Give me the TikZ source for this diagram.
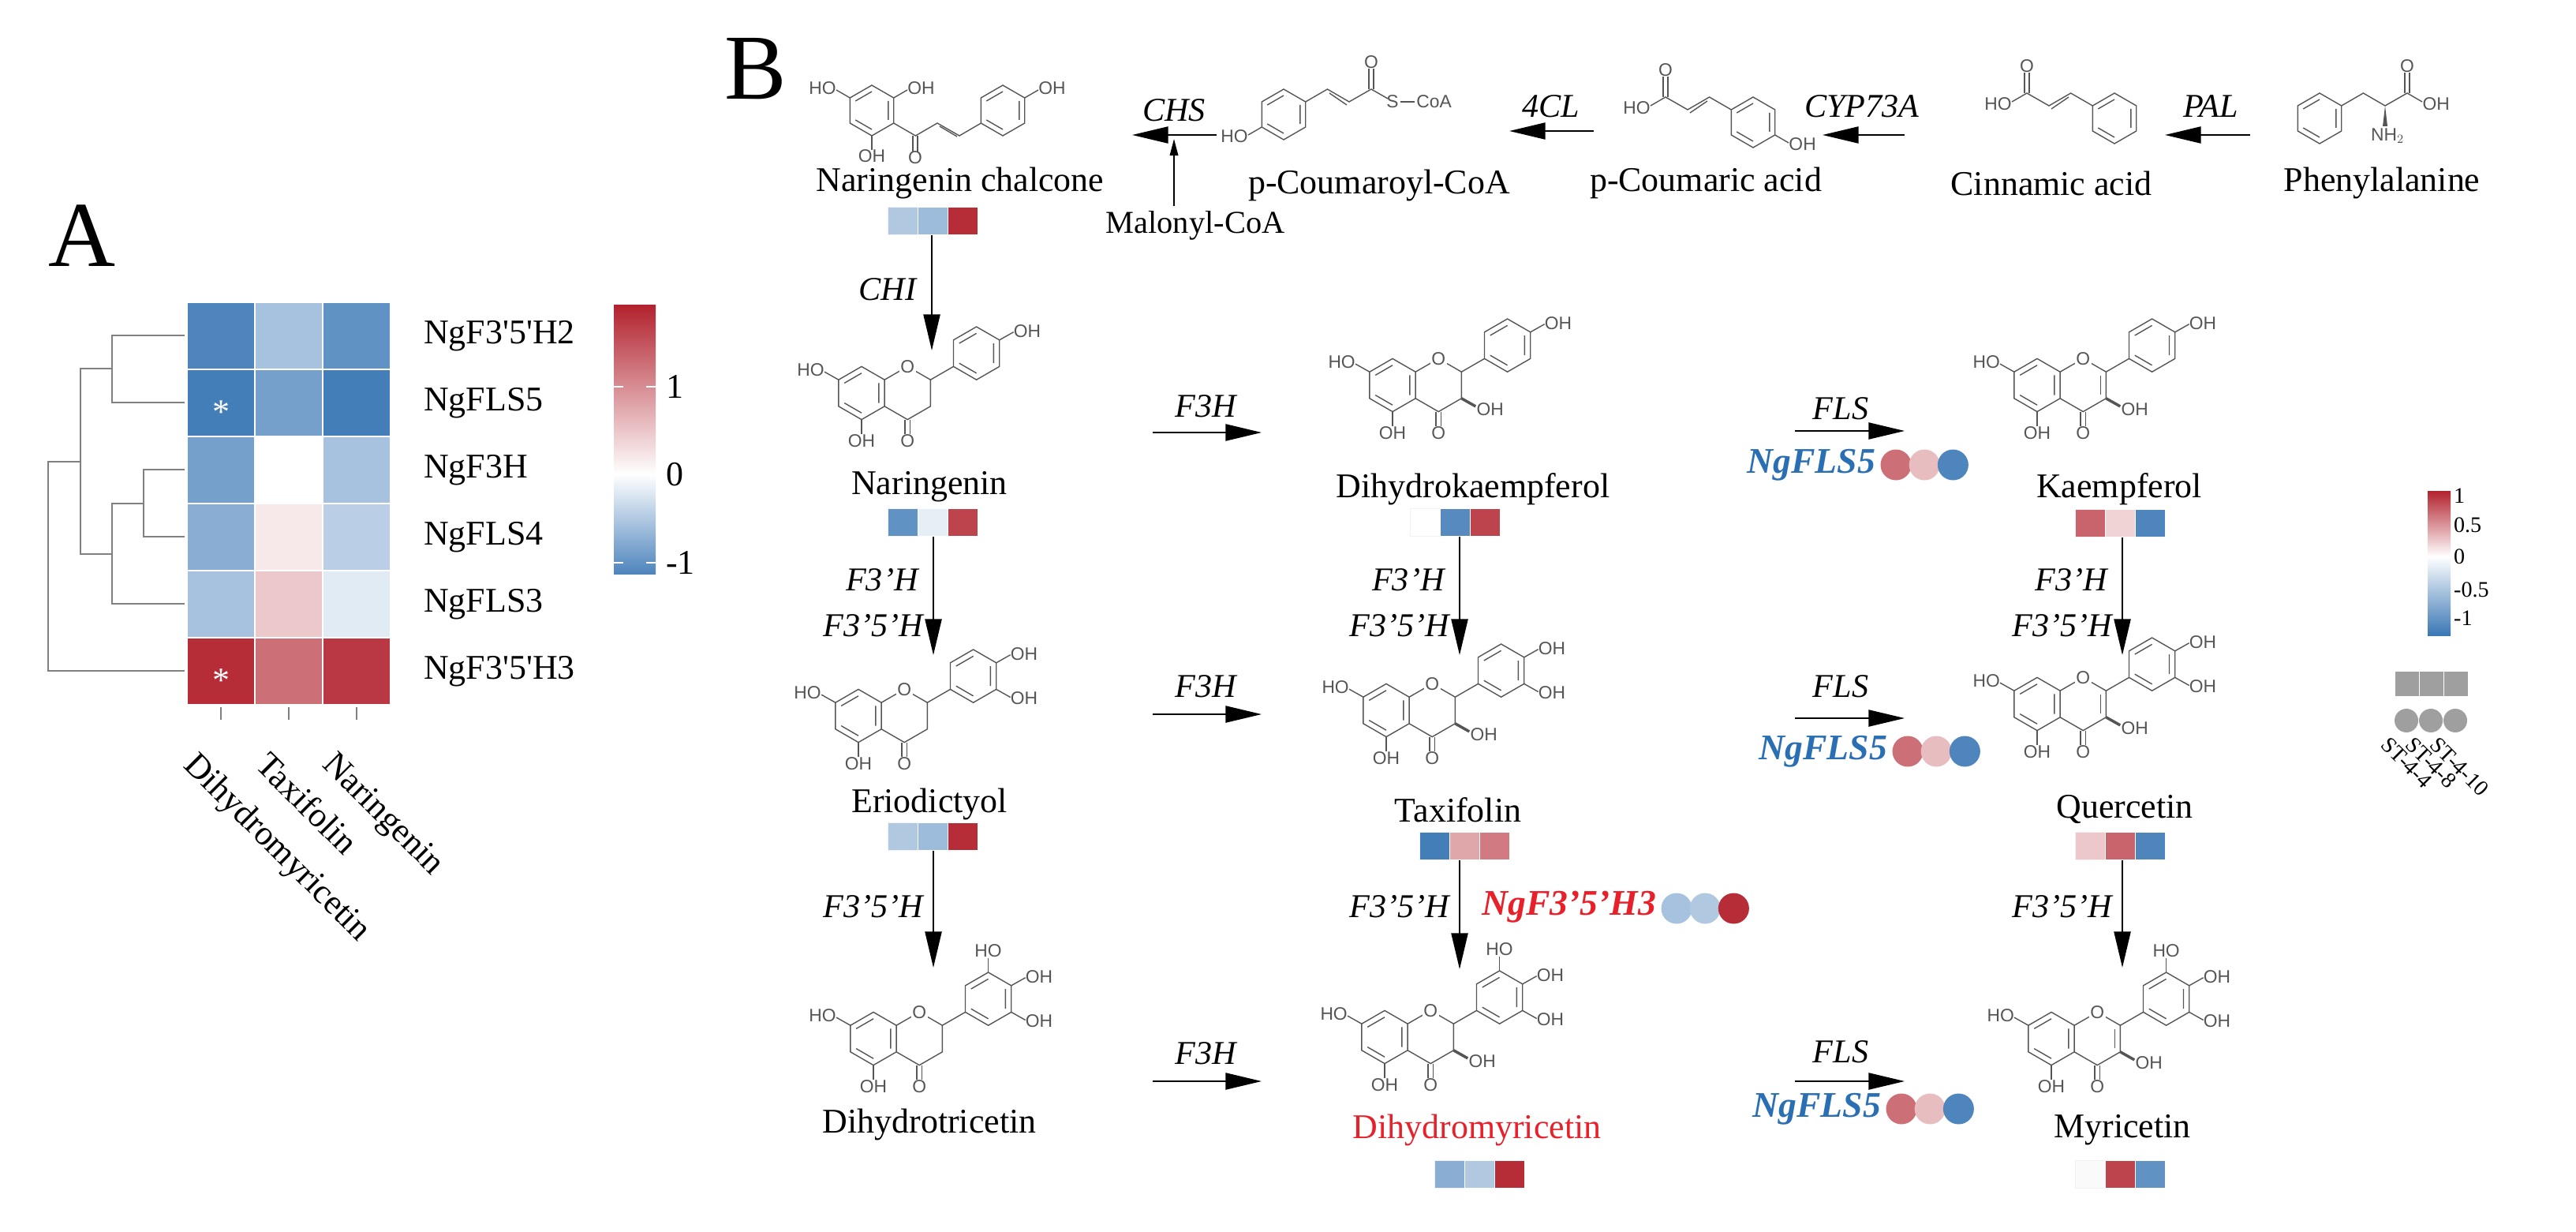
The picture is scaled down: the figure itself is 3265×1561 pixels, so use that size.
\documentclass[tikz,border=0pt]{standalone}
\usepackage{fontspec}
\setmainfont{Liberation Serif}
\setsansfont{Liberation Sans}
\usetikzlibrary{arrows.meta,positioning,calc}
\definecolor{hmB}{HTML}{3A77B5}
\definecolor{hmR}{HTML}{B2222E}
\definecolor{molgray}{HTML}{555555}
\definecolor{nameblue}{HTML}{2A6FB4}
\definecolor{namered}{HTML}{E8202A}
\newcommand\fs[1]{\fontsize{#1}{#1}\selectfont}

\tikzset{
  lab/.style={font=\fs{25}},
  enz/.style={font=\fs{24}\itshape},
  atom/.style={font=\sffamily\fs{13},inner sep=1pt,text=molgray},
  mol/.style={color=molgray,line width=0.8pt},
  rxn/.style={line width=1.2pt,-{Triangle[length=26pt,width=12pt]}},
  dend/.style={gray,line width=1.3pt},
  trio/.style={minimum width=2.28cm,minimum height=0.7cm,inner sep=0pt},
  spot/.style={circle,minimum size=0.78cm,inner sep=0pt},
}

% hexagon with inner bonds: center, radius
\newcommand\hexa[2]{%
  \draw (#1) +(30:#2) -- +(90:#2) -- +(150:#2) -- +(210:#2) -- +(270:#2) -- +(330:#2) -- cycle;
  \pgfmathsetmacro\ri{0.75*#2}
  \draw (#1) +(90:\ri) -- +(150:\ri) (#1) +(210:\ri) -- +(270:\ri) (#1) +(330:\ri) -- +(30:\ri);}

% three expression boxes: name, position, colours
\newcommand\trio[5]{%
  \node[trio] (#1) at (#2) {};
  \fill[#3,draw=white!90!gray] (#1.north west) rectangle ++(38,35);
  \fill[#4,draw=white] ($(#1.north west)+(38,0)$) rectangle ++(38,35);
  \fill[#5,draw=white] ($(#1.north west)+(76,0)$) rectangle ++(38,35);}

% three gene expression spots: name, position, colours
\newcommand\spots[5]{%
  \node[spot,fill=#3] (#1a) at (#2) {};
  \node[spot,fill=#4,right=-2pt of #1a] (#1b) {};
  \node[spot,fill=#5,right=-2pt of #1b] (#1c) {};}

% flavonoid skeleton: position, type (0 flavanone, 1 dihydroflavonol, 2 flavonol), B-ring OH
\newcommand\flav[3]{%
  \begin{scope}[shift={(#1)},yscale=-1,scale=1.12,mol]
    \hexa{0,0}{30}
    \draw (26,15) -- (52,30) -- (78,15) -- (78,-15) -- (52,-30) -- (26,-15);
    \node[atom,fill=white] at (52,30) {O};
    \draw (49,-30) -- (49,-46) (55,-30) -- (55,-46);
    \node[atom] at (52,-54) {O};
    \draw (-26,15) -- (-42,24);
    \node[atom,anchor=east] at (-40,26) {HO};
    \draw (0,-30) -- (0,-46);
    \node[atom] at (0,-54) {OH};
    \ifnum#2>0
      \draw[line width=2pt] (78,-15) -- (94,-24);
      \node[atom,anchor=west] at (93,-27) {OH};
    \fi
    \ifnum#2=2 \draw (72,-11) -- (72,11); \fi
    \draw (78,15) -- (104,30);
    \hexa{130,45}{30}
    \draw (156,60) -- (172,69);
    \node[atom,anchor=west] at (170,70) {OH};
    \ifnum#3>1
      \draw (156,30) -- (172,21);
      \node[atom,anchor=west] at (170,20) {OH};
    \fi
    \ifnum#3>2
      \draw (130,75) -- (130,91);
      \node[atom,anchor=south] at (130,90) {HO};
    \fi
  \end{scope}}

\begin{document}
\begin{tikzpicture}[x=0.02cm,y=-0.02cm]
\useasboundingbox (0,0) rectangle (3265,1561);

%%% panel A
\node[font=\fs{67}] (pA) at (104,299) {A};
\foreach \r/\ca/\cb/\cc/\g in {
    0/hmB!90/hmB!45/hmB!80/NgF3\textquotesingle5\textquotesingle H2,
    1/hmB!95/hmB!70/hmB!95/NgFLS5,
    2/hmB!70/white/hmB!45/NgF3H,
    3/hmB!60/hmR!10/hmB!35/NgFLS4,
    4/hmB!45/hmR!25/hmB!15/NgFLS3,
    5/hmR!95/hmR!65/hmR!90/NgF3\textquotesingle5\textquotesingle H3}{
  \pgfmathsetmacro\y{383+85*\r}
  \pgfmathsetmacro\yc{\y+42.5}
  \fill[\ca,draw=white,line width=1.2pt] (237,\y) rectangle ++(86,85);
  \fill[\cb,draw=white,line width=1.2pt] (323,\y) rectangle ++(86,85);
  \fill[\cc,draw=white,line width=1.2pt] (409,\y) rectangle ++(86,85);
  \node[lab,anchor=west] (g\r) at (531,\yc) {\g};
}
\node[text=white,font=\fs{25}] (s1) at (280,522) {*};
\node[text=white,font=\fs{25}] (s2) at (280,862) {*};
% dendrogram
\draw[dend] (234,425) -- (142,425) -- (142,510) -- (234,510);
\draw[dend] (234,595) -- (182,595) -- (182,680) -- (234,680);
\draw[dend] (182,638) -- (142,638) -- (142,765) -- (234,765);
\draw[dend] (142,467) -- (102,467) -- (102,702) -- (142,702);
\draw[dend] (102,585) -- (61,585) -- (61,850) -- (234,850);
\draw[dend] (280,896) -- (280,912) (366,896) -- (366,912) (452,896) -- (452,912);
\node[lab,rotate=-45,anchor=north west] (c1) at (253,941) {Dihydromyricetin};
\node[lab,rotate=-45,anchor=north west] (c2) at (344,941) {Taxifolin};
\node[lab,rotate=-45,anchor=north west] (c3) at (428,941) {Naringenin};
% colour key
\shade[top color=hmR,bottom color=white] (778,386) rectangle (831,601);
\shade[top color=white,bottom color=hmB!90] (778,601) rectangle (831,727);
\foreach \t/\v in {490/1,601/0,713/-1}{
  \draw[white,line width=1pt] (778,\t) -- (790,\t) (819,\t) -- (831,\t);
  \node[lab,anchor=west] at (838,\t) {\v};
}

%%% panel B
\node[font=\fs{67}] (pB) at (958,87) {B};
% top row molecules
\begin{scope}[shift={(1105,140)},yscale=-1,mol]
  \hexa{0,0}{32}
  \draw (-27.7,16) -- (-45,26); \node[atom,anchor=east] at (-43,28) {HO};
  \draw (27.7,16) -- (45,26); \node[atom,anchor=west] at (43,28) {OH};
  \draw (0,-32) -- (0,-50); \node[atom] at (0,-58) {OH};
  \draw (27.7,-16) -- (55.4,-32) -- (83,-16) -- (111,-32) -- (138.5,-16);
  \draw (52,-32) -- (52,-52) (58,-32) -- (58,-52); \node[atom] at (55,-60) {O};
  \draw (86,-20) -- (108,-33);
  \hexa{166,0}{32}
  \draw (193.7,16) -- (211,26); \node[atom,anchor=west] at (209,28) {OH};
\end{scope}
\begin{scope}[shift={(1627,145)},yscale=-1,mol]
  \hexa{0,0}{32}
  \draw (-27.7,-16) -- (-45,-26); \node[atom,anchor=east] at (-43,-28) {HO};
  \draw (27.7,16) -- (55.4,32) -- (83,16) -- (111,32) -- (132,20);
  \draw (80,12) -- (58,27);
  \draw (108,32) -- (108,58) (114,32) -- (114,58); \node[atom] at (111,66) {O};
  \node[atom] (cS) at (138,16) {S};
  \node[atom,anchor=west] (cCoA) at (166,16) {CoA};
  \draw (cS) -- (cCoA);
\end{scope}
\begin{scope}[shift={(2222,155)},yscale=-1,mol]
  \hexa{0,0}{32}
  \draw (27.7,-16) -- (45,-26); \node[atom,anchor=west] at (43,-28) {OH};
  \draw (-27.7,16) -- (-55.4,32) -- (-83,16) -- (-111,32) -- (-130,21);
  \draw (-80,12) -- (-58,27);
  \draw (-108,32) -- (-108,58) (-114,32) -- (-114,58); \node[atom] at (-111,66) {O};
  \node[atom,anchor=east] at (-128,18) {HO};
\end{scope}
\begin{scope}[shift={(2680,150)},yscale=-1,mol]
  \hexa{0,0}{32}
  \draw (-27.7,16) -- (-55.4,32) -- (-83,16) -- (-111,32) -- (-130,21);
  \draw (-80,12) -- (-58,27);
  \draw (-108,32) -- (-108,58) (-114,32) -- (-114,58); \node[atom] at (-111,66) {O};
  \node[atom,anchor=east] at (-128,18) {HO};
\end{scope}
\begin{scope}[shift={(2940,150)},yscale=-1,mol]
  \hexa{0,0}{32}
  \draw (27.7,16) -- (55.4,32) -- (83,16) -- (111,32) -- (130,21);
  \draw (108,32) -- (108,58) (114,32) -- (114,58); \node[atom] at (111,66) {O};
  \node[atom,anchor=west] at (128,18) {OH};
  \fill (83,16) -- (80,-10) -- (86,-10) -- cycle;
  \node[atom] at (86,-22) {NH$_2$};
\end{scope}
\node[lab] (chal) at (1217,232) {Naringenin chalcone};
\node[lab] (pcoa) at (1748,235) {p-Coumaroyl-CoA};
\node[lab] (pcou) at (2162,232) {p-Coumaric acid};
\node[lab] (cinn) at (2600,232) {Cinnamic acid};
\node[lab] (phe) at (3019,232) {Phenylalanine};
\node[font=\fs{23}] (mal) at (1515,286) {Malonyl-CoA};
\trio{chalB}{1183,280}{hmB!40}{hmB!50}{hmR!95}

% top row reactions
\coordinate (chsS) at (1542,171); \coordinate (chsE) at (1435,171);
\draw[rxn] (chsS) -- (chsE);
\node[enz] (chs) at (1488,140) {CHS};
\coordinate (malE) at (1488,176);
\draw[line width=1pt,-{Triangle[length=12pt,width=6pt]}] (mal.north -| malE) -- (malE);
\coordinate (clS) at (2020,166); \coordinate (clE) at (1913,166);
\draw[rxn] (clS) -- (clE);
\node[enz] (cl) at (1966,135) {4CL};
\coordinate (cypS) at (2414,171); \coordinate (cypE) at (2310,171);
\draw[rxn] (cypS) -- (cypE);
\node[enz] (cyp) at (2360,135) {CYP73A};
\coordinate (palS) at (2852,171); \coordinate (palE) at (2744,171);
\draw[rxn] (palS) -- (palE);
\node[enz] (pal) at (2802,135) {PAL};

% flavonoids
\flav{1092,498}{0}{1}
\flav{1765,488}{1}{1}
\flav{2582,488}{2}{1}
\flav{1088,907}{0}{2}
\flav{1757,900}{1}{2}
\flav{2582,892}{2}{2}
\flav{1107,1316}{0}{3}
\flav{1755,1314}{1}{3}
\flav{2600,1316}{2}{3}

\node[lab] (nar) at (1178,617) {Naringenin};
\node[lab] (dhk) at (1867,620) {Dihydrokaempferol};
\node[lab] (kae) at (2686,620) {Kaempferol};
\node[lab] (eri) at (1178,1019) {Eriodictyol};
\node[lab] (tax) at (1848,1026) {Taxifolin};
\node[lab] (que) at (2693,1026) {Quercetin};
\node[lab] (dht) at (1178,1425) {Dihydrotricetin};
\node[lab,text=namered] (dhm) at (1872,1432) {Dihydromyricetin};
\node[lab] (myr) at (2690,1432) {Myricetin};

\trio{narB}{1183,662}{hmB!80}{hmB!12}{hmR!85}
\trio{dhkB}{1845,662}{white}{hmB!85}{hmR!85}
\trio{kaeB}{2688,663}{hmR!70}{hmR!20}{hmB!90}
\trio{eriB}{1183,1060}{hmB!40}{hmB!50}{hmR!95}
\trio{taxB}{1857,1072}{hmB!95}{hmR!40}{hmR!60}
\trio{queB}{2688,1072}{hmR!25}{hmR!70}{hmB!90}
\trio{dhmB}{1876,1488}{hmB!60}{hmB!40}{hmR!95}
\trio{myrB}{2688,1488}{white!96!gray}{hmR!85}{hmB!80}

% vertical reactions
\coordinate (chiE) at (1181,444);
\draw[rxn] (chalB.south -| chiE) -- (chiE);
\node[enz] (chi) at (1125,367) {CHI};
\coordinate (v1E) at (1183,830); \draw[rxn] (narB.south -| v1E) -- (v1E);
\coordinate (v2E) at (1850,830); \draw[rxn] (dhkB.south -| v2E) -- (v2E);
\coordinate (v3E) at (2690,830); \draw[rxn] (kaeB.south -| v3E) -- (v3E);
\coordinate (v4E) at (1183,1226); \draw[rxn] (eriB.south -| v4E) -- (v4E);
\coordinate (v5E) at (1850,1228); \draw[rxn] (taxB.south -| v5E) -- (v5E);
\coordinate (v6E) at (2690,1226); \draw[rxn] (queB.south -| v6E) -- (v6E);
\foreach \x in {1176,1843,2683}{
  \node[enz,anchor=west] at (\x-110,735) {F3’H};
  \node[enz,anchor=east] at (\x,793) {F3’5’H};
  \node[enz,anchor=east] at (\x,1149) {F3’5’H};
}

% horizontal reactions
\foreach \y/\ly in {548/515,905/870,1370/1335}{
  \coordinate (hS) at (1461,\y); \coordinate (hE) at (1599,\y);
  \draw[rxn] (hS) -- (hE);
  \node[enz] at (1528,\ly) {F3H};
}
\foreach \y/\ly in {546/518,910/870,1370/1333}{
  \coordinate (fS) at (2275,\y); \coordinate (fE) at (2414,\y);
  \draw[rxn] (fS) -- (fE);
  \node[enz] at (2333,\ly) {FLS};
}

% genes
\node[font=\fs{26}\bfseries\itshape,text=namered,anchor=west] (h3) at (1872,1149) {NgF3’5’H3};
\spots{h3s}{2125,1151}{hmB!45}{hmB!40}{hmR!95}
\foreach \n/\x/\y in {f1/2403/589,f2/2418/952,f3/2410/1405}{
  \spots{\n}{\x,\y}{hmR!65}{hmR!30}{hmB!90}
  \node[font=\fs{26}\bfseries\itshape,text=nameblue,anchor=east] at (\n a.west) {NgFLS5};
}

% legend
\shade[top color=hmR,bottom color=white] (3077,622) rectangle (3106,705);
\shade[top color=white,bottom color=hmB] (3077,705) rectangle (3106,805);
\foreach \t/\v in {628/1,665/0.5,705/0,747/-0.5,783/-1}{
  \node[font=\fs{16},anchor=west,inner sep=1pt] at (3108,\t) {\v};
}
\foreach \i/\x/\s in {1/3050/ST-4-4,2/3081/ST-4-8,3/3112/ST-4-10}{
  \fill[gray!75,draw=white] (\x-15,850) rectangle ++(31,32);
  \node[circle,fill=gray!75,minimum size=0.6cm,inner sep=0pt] (lg\i) at (\x,913) {};
  \node[font=\fs{16},rotate=-45,anchor=north west,inner sep=0pt] (lt\i) at (\x-20,932) {\s};
}
\end{tikzpicture}
\end{document}
